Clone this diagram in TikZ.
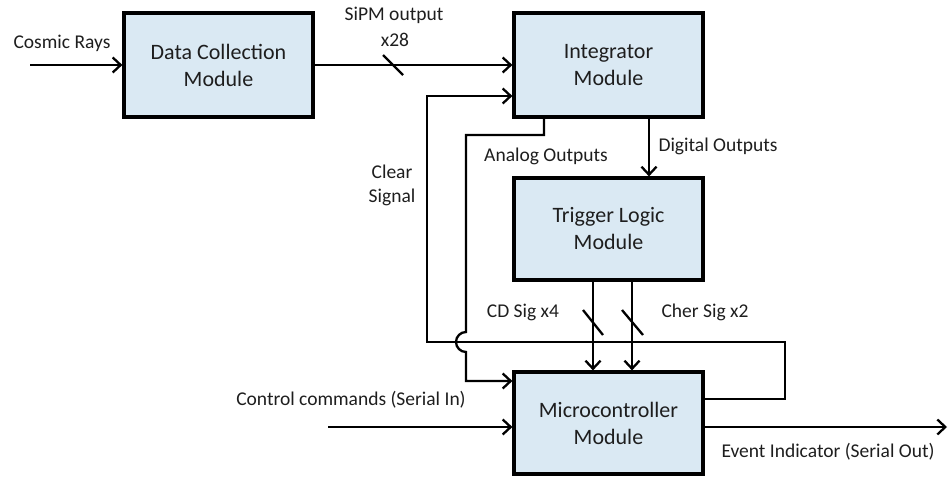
\documentclass[tikz,border=0pt]{standalone}
\usepackage{fontspec}
\setmainfont{Carlito}
\usetikzlibrary{arrows.meta}
\definecolor{boxfill}{RGB}{218,233,243}
\definecolor{txt}{RGB}{30,30,30}
\begin{document}
\begin{tikzpicture}[x=1pt,y=-1pt,
  modbox/.style={draw=black,line width=3.2pt,fill=boxfill,minimum width=189pt,minimum height=104pt,align=center,text=txt,font=\fontsize{22}{27}\selectfont,inner sep=0pt},
  lbl/.style={text=txt,font=\fontsize{19.5}{24}\selectfont,inner sep=0pt,align=center},
  conn/.style={line width=2.3pt},
  arr/.style={conn,-{Straight Barb[length=8pt,width=15pt,line width=2.3pt]}}]
\useasboundingbox (0,0) rectangle (950,478);
\node[modbox] (data) at (218.5,65) {Data Collection\\Module};
\node[modbox] (int) at (608.5,65) {Integrator\\Module};
\node[modbox,minimum height=102pt] (trig) at (608.5,229) {Trigger Logic\\Module};
\node[modbox,minimum height=102pt] (micro) at (608.5,423) {Microcontroller\\Module};
\coordinate (cosmic) at (30,65);
\coordinate (ctrl) at (328,427);
\coordinate (evt) at (947,427);
% connectors
\draw[arr] (cosmic) -- (data.west);
\draw[arr] (data.east) -- (int.west);
\draw[conn] (383,55) -- (403,75);
\draw[arr] (micro.east |- 0,399) -- (785,399) -- (785,342) -- (427,342) -- (427,96) -- (int.west |- 0,96);
\draw[arr] (int.south -| 544,0) -- (544,135) -- (466,135) -- (466,332)
  arc[start angle=270,end angle=90,radius=10] -- (466,381) -- (micro.west |- 0,381);
\draw[arr] (int.south -| 649,0) -- (trig.north -| 649,0);
\draw[arr] (trig.south -| 593,0) -- (micro.north -| 593,0);
\draw[arr] (trig.south -| 632,0) -- (micro.north -| 632,0);
\draw[conn] (583,310) -- (603,335);
\draw[conn] (622,310) -- (643,335);
\draw[arr] (ctrl) -- (micro.west |- ctrl);
\draw[arr] (micro.east |- evt) -- (evt);
% labels
\node[lbl] (lcos) at (62,43) {Cosmic Rays};
\node[lbl] (lsipm) at (394,15) {SiPM output};
\node[lbl] (lx28) at (395,40) {x28};
\node[lbl] (lclear) at (392,185) {Clear\\Signal};
\node[lbl] (lanalog) at (546,156) {Analog Outputs};
\node[lbl] (ldig) at (718,146) {Digital Outputs};
\node[lbl] (lcd) at (523,312) {CD Sig x4};
\node[lbl] (lcher) at (705,312) {Cher Sig x2};
\node[lbl] (lctrl) at (351,400) {Control commands (Serial In)};
\node[lbl] (levt) at (828,452) {Event Indicator (Serial Out)};
\end{tikzpicture}
\end{document}
